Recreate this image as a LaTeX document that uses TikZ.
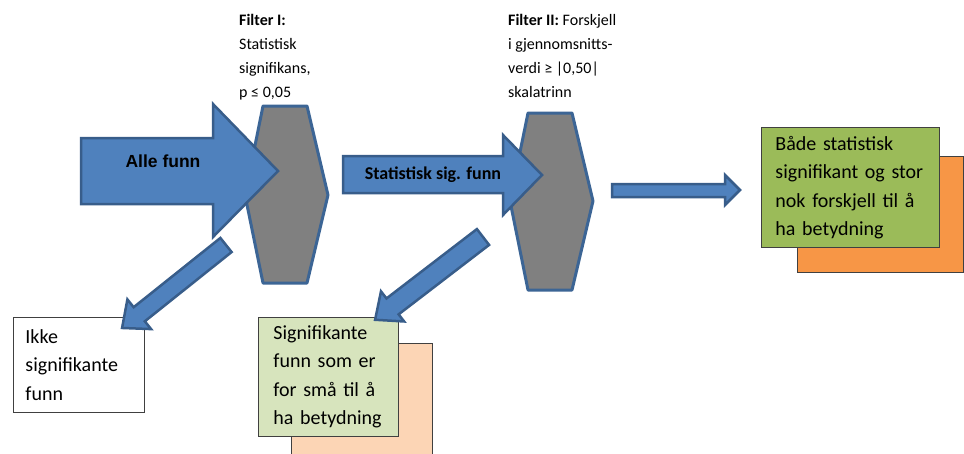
\documentclass[tikz,border=0pt]{standalone}
\usepackage{fontspec}
\setmainfont{Carlito}
\newfontfamily\arialfont{Liberation Sans}
\newfontfamily\boxfont[WordSpace=0.62]{Carlito}
\definecolor{arrowblue}{HTML}{4F81BD}
\definecolor{arrowedge}{HTML}{385D8A}
\definecolor{hexgray}{HTML}{808080}
\definecolor{hexedge}{HTML}{3C6595}
\definecolor{boxgreen}{HTML}{9BBB59}
\definecolor{boxorange}{HTML}{F79646}
\definecolor{boxlightgreen}{HTML}{D7E4BD}
\definecolor{boxpeach}{HTML}{FCD5B5}
\definecolor{boxedge}{HTML}{404040}
\begin{document}
\begin{tikzpicture}[x=1pt,y=-1pt,
  blockarrow/.style={fill=arrowblue, draw=arrowedge, line width=2.5pt, line join=miter},
  hexa/.style={fill=hexgray, draw=hexedge, line width=3pt, line join=round},
  textbox/.style={draw=boxedge, line width=0.9pt, anchor=north west, align=left,
    inner ysep=0pt, font=\boxfont\fontsize{20}{28.5}\selectfont},
  backbox/.style={draw=boxedge, line width=0.9pt},
  filtertext/.style={anchor=north west, align=left, inner sep=0pt,
    font=\fontsize{16}{24}\selectfont}]
\useasboundingbox (0,0) rectangle (964,453);
\clip (0,0) rectangle (964,453);
\fill[white] (0,0) rectangle (964,453);

% back boxes
\draw[backbox, fill=boxorange] (797,156) rectangle (963,272);
\draw[backbox, fill=boxpeach] (291,343) rectangle (432,470);

% front boxes
\node[textbox, fill=boxgreen, minimum width=178pt, minimum height=120pt,
  inner xsep=14pt, text width=150pt] (both) at (761,127)
  {Både statistisk\\signifikant og stor\\nok forskjell til å\\ha betydning};
\node[textbox, fill=boxlightgreen, minimum width=140pt, minimum height=119pt,
  inner xsep=15pt, text width=110pt] (small) at (258,317)
  {Signifikante\\funn som er\\for små til å\\ha betydning};
\node[textbox, fill=white, minimum width=131pt, minimum height=95pt,
  inner xsep=12pt, text width=107pt] (ikke) at (13,317)
  {Ikke\\signifikante\\funn};

% filters
\draw[hexa] (263,106) -- (307,106) -- (328,195) -- (307,283) -- (263,283) -- (245,195) -- cycle;
\draw[hexa] (528,113) -- (572,113) -- (593,201) -- (572,290) -- (528,290) -- (510,201) -- cycle;

% horizontal block arrows
\draw[blockarrow] (81,138) -- (213,138) -- (213,104) -- (278,171) -- (213,237) -- (213,204) -- (81,204) -- cycle;
\draw[blockarrow] (343,156) -- (503,156) -- (503,135) -- (542,175) -- (503,215) -- (503,193) -- (343,193) -- cycle;
\draw[blockarrow] (612,184) -- (725,184) -- (725,175) -- (740,190) -- (725,205) -- (725,197) -- (612,197) -- cycle;

% diagonal block arrows
\begin{scope}[shift={(226,245)}, rotate=218.6]
  \draw[blockarrow] (0,-9) -- (111,-9) -- (111,-19) -- (133,0) -- (111,19) -- (111,9) -- (0,9) -- cycle;
\end{scope}
\begin{scope}[shift={(483,237)}, rotate=217.5]
  \draw[blockarrow] (0,-10) -- (114,-10) -- (114,-19) -- (136,0) -- (114,19) -- (114,10) -- (0,10) -- cycle;
\end{scope}

% arrow labels
\node[font=\arialfont\bfseries\fontsize{17.5}{20}\selectfont] (alle) at (163,161) {Alle funn};
\node[font=\bfseries\fontsize{18}{20}\selectfont] (sig) at (433,175) {Statistisk sig. funn};

% filter captions
\node[filtertext] (f1) at (239,14) {\textbf{Filter I:}\\Statistisk\\signifikans,\\p ≤ 0,05};
\node[filtertext] (f2) at (508,14) {\textbf{Filter II:} Forskjell\\i gjennomsnitts-\\verdi ≥ |0,50|\\skalatrinn};
\end{tikzpicture}
\end{document}
